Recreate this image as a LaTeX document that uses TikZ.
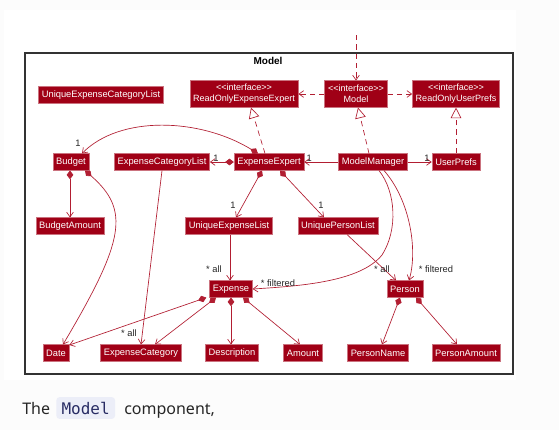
\documentclass[tikz,border=0pt]{standalone}
\usepackage{fontspec}
\setmainfont{Liberation Sans}
\newfontfamily\capfont{Noto Sans}
\newfontfamily\codefont{DejaVu Sans Mono}
\usetikzlibrary{arrows.meta,positioning}
\definecolor{boxC}{RGB}{160,0,22}
\definecolor{lineC}{RGB}{178,30,50}
\definecolor{bgC}{RGB}{252,252,252}
\definecolor{codeBg}{RGB}{236,238,248}
\definecolor{codeFg}{RGB}{40,44,100}
\newcommand{\ifc}{{<}{<}interface{>}{>}}
\begin{document}
\begin{tikzpicture}[x=0.75pt,y=-0.75pt,
  cls/.style={fill=boxC,draw=boxC!55!white,line width=0.3pt,text=white,
    font=\fontsize{7}{8}\selectfont,inner xsep=2.5pt,inner ysep=0pt,minimum height=12.5pt},
  iface/.style={cls,align=center,minimum height=20pt,font=\fontsize{6.8}{8.2}\selectfont},
  conn/.style={draw=lineC,line width=0.5pt},
  arr/.style={conn,-{Straight Barb[length=3.5pt,width=5pt]}},
  comp/.style={conn,{Diamond[length=6.5pt,width=5pt]}-{Straight Barb[length=3.5pt,width=5pt]}},
  real/.style={conn,dashed,dash pattern=on 4pt off 3pt,-{Triangle[open,length=8pt,width=8pt,fill=white]}},
  dep/.style={conn,dashed,dash pattern=on 4pt off 3pt,-{Straight Barb[length=3.5pt,width=5pt]}},
  lbl/.style={font=\fontsize{7}{8}\selectfont,text=black!85,inner sep=0.5pt}]
\useasboundingbox (0,0) rectangle (559,430);
\fill[bgC] (0,0) rectangle (559,430);
\fill[white] (4,10) rectangle (516,380);
% frame
\draw[black!80,line width=1pt] (25,53) rectangle (513,374);
\node[font=\fontsize{7.5}{9}\selectfont\bfseries] (title) at (268,61) {Model};
% row 1
\node[cls] (uecl) at (101,95) {UniqueExpenseCategoryList};
\node[iface] (roee) at (244,94) {\ifc\\ReadOnlyExpenseExpert};
\node[iface] (model) at (356,94) {\ifc\\Model};
\node[iface] (roup) at (456,94) {\ifc\\ReadOnlyUserPrefs};
% row 2
\node[cls] (budget) at (71,162) {Budget};
\node[cls] (ecl) at (162,162) {ExpenseCategoryList};
\node[cls] (ee) at (269,162) {ExpenseExpert};
\node[cls] (mm) at (373,162) {ModelManager};
\node[cls] (up) at (456,162) {UserPrefs};
% row 3
\node[cls] (ba) at (70,226) {BudgetAmount};
\node[cls] (uel) at (229,226) {UniqueExpenseList};
\node[cls] (upl) at (338,226) {UniquePersonList};
% row 4
\node[cls] (exp) at (231,289) {Expense};
\node[cls] (person) at (405,289) {Person};
% row 5
\node[cls] (date) at (56,353) {Date};
\node[cls] (ec) at (141,353) {ExpenseCategory};
\node[cls] (desc) at (232,353) {Description};
\node[cls] (amt) at (303,353) {Amount};
\node[cls] (pn) at (378,353) {PersonName};
\node[cls] (pa) at (466,353) {PersonAmount};
% external dependency
\coordinate (ext) at (356,35);
\draw[dep] (ext) -- (model.north);
\draw[dep] (model.west) -- (roee.east);
\draw[dep] (model.east) -- (roup.east -| roup.west);
% realizations
\draw[real] (mm.north -| 369,0) -- (model.south -| 358,0);
\draw[real] (up.north) -- (roup.south);
\draw[real] (ee.north -| 265,0) -- (roee.south -| 251,0);
% associations from ModelManager
\draw[arr] (mm.west) -- node[lbl,pos=0.85,above] {1} (ee.east);
\draw[arr] (mm.east) -- node[lbl,pos=0.8,above] {1} (up.west);
% compositions from ExpenseExpert
\draw[comp] (ee.west) -- node[lbl,pos=0.75,above] {1} (ecl.east);
\draw[comp] (ee.north -| 258,0) .. controls (200,118) and (120,115) .. (budget.north -| 82,0);
\node[lbl] (b1) at (78,143) {1};
\draw[comp] (ee.south -| 262,0) -- (uel.north -| 236,0);
\node[lbl] (u1) at (233,205) {1};
\draw[comp] (ee.south -| 280,0) -- (upl.north -| 324,0);
\node[lbl] (p1) at (321,205) {1};
% Budget
\draw[comp] (budget.south -| 70,0) -- (ba.north -| 70,0);
\draw[comp] (budget.south -| 85,0) .. controls (130,210) and (125,240) .. (date.north -| 63,0);
% ExpenseCategoryList
\draw[arr] (ecl.south) -- (ec.north -| 141,0);
% UniqueExpenseList
\draw[arr] (uel.south -| 230,0) -- (exp.north -| 230,0);
\node[lbl] (all1) at (214,269) {* all};
% ModelManager -> Expense filtered
\draw[arr] (mm.south -| 379,0) .. controls (396,192) and (398,230) .. (382,255)
   .. controls (360,282) and (300,286) .. (exp.east);
\node[lbl] (filt1) at (278,283) {* filtered};
% ModelManager -> Person filtered
\draw[arr] (mm.south -| 384,0) .. controls (410,200) and (418,250) .. (person.north -| 409,0);
\node[lbl] (filt2) at (436,269) {* filtered};
% UniquePersonList -> Person
\draw[arr] (upl.south -| 347,0) -- (person.north -| 396,0);
\node[lbl] (all2) at (382,269) {* all};
% Expense compositions
\draw[comp] (exp.south west) ++(-3,0) coordinate (ed) (ed) -- (date.east |- 0,345);
\node[lbl] (all3) at (129,333) {* all};
\draw[comp] (exp.south -| 216,0) -- (ec.north -| 155,0);
\draw[comp] (exp.south -| 231,0) -- (desc.north -| 231,0);
\draw[comp] (exp.south -| 243,0) -- (amt.north -| 300,0);
% Person compositions
\draw[comp] (person.south -| 400,0) -- (pn.north -| 382,0);
\draw[comp] (person.south -| 416,0) -- (pa.north -| 457,0);
% caption
\node[anchor=base west,font=\capfont\fontsize{12}{14}\selectfont,text=black!85,inner sep=0] (the) at (22,414) {The};
\node[anchor=base west,fill=codeBg,rounded corners=2.5pt,inner xsep=4pt,inner ysep=3.5pt,
  font=\codefont\fontsize{12}{14}\selectfont,text=codeFg] (code) at (56,414) {Model};
\node[anchor=base west,font=\capfont\fontsize{12}{14}\selectfont,text=black!85,inner sep=0] (comp) at (124,414) {component,};
\end{tikzpicture}
\end{document}
